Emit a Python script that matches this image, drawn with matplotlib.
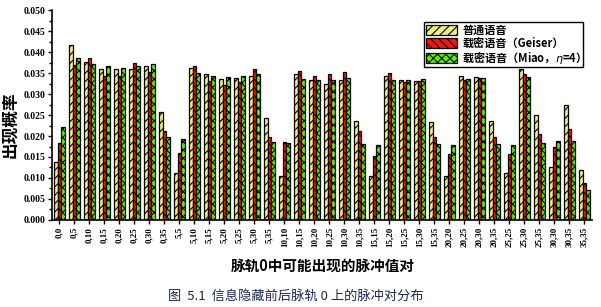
import numpy as np
import matplotlib
matplotlib.use('Agg')
import matplotlib.pyplot as plt
from matplotlib.patches import Patch

# 脉冲值对
pairs = ['0,0', '0,5', '0,10', '0,15', '0,20', '0,25', '0,30', '0,35',
         '5,5', '5,10', '5,15', '5,20', '5,25', '5,30', '5,35',
         '10,10', '10,15', '10,20', '10,25', '10,30', '10,35',
         '15,15', '15,20', '15,25', '15,30', '15,35',
         '20,20', '20,25', '20,30', '20,35',
         '25,25', '25,30', '25,35',
         '30,30', '30,35',
         '35,35']

normal = [0.0137, 0.0416, 0.0376, 0.0359, 0.0359, 0.0359, 0.0366, 0.0256,
          0.0111, 0.0363, 0.0347, 0.0335, 0.0337, 0.0344, 0.0242,
          0.0104, 0.0347, 0.0333, 0.0325, 0.0333, 0.0235,
          0.0104, 0.0342, 0.0333, 0.0330, 0.0233,
          0.0104, 0.0342, 0.0340, 0.0235,
          0.0111, 0.0359, 0.0249,
          0.0125, 0.0275,
          0.0118]

geiser = [0.0183, 0.0368, 0.0385, 0.0344, 0.0342, 0.0375, 0.0352, 0.0211,
          0.0159, 0.0366, 0.0330, 0.0321, 0.0328, 0.0359, 0.0197,
          0.0185, 0.0354, 0.0344, 0.0347, 0.0352, 0.0211,
          0.0152, 0.0349, 0.0328, 0.0330, 0.0197,
          0.0156, 0.0333, 0.0337, 0.0197,
          0.0156, 0.0347, 0.0204,
          0.0173, 0.0216,
          0.0087]

miao = [0.0221, 0.0385, 0.0371, 0.0366, 0.0363, 0.0366, 0.0371, 0.0198,
        0.0192, 0.0349, 0.0344, 0.0340, 0.0344, 0.0347, 0.0185,
        0.0183, 0.0335, 0.0333, 0.0333, 0.0337, 0.0180,
        0.0178, 0.0333, 0.0333, 0.0335, 0.0180,
        0.0178, 0.0335, 0.0337, 0.0180,
        0.0178, 0.0340, 0.0183,
        0.0187, 0.0187,
        0.0071]

labels = ['普通语音', '载密语音（Geiser）', '载密语音（Miao，$\\eta$=4）']
colors = ['#eef07a', '#ff1010', '#5cee00']
hatches = ['////', '\\\\\\\\', 'xxxx']

plt.rcParams['hatch.linewidth'] = 0.8
cjk = ['Noto Sans CJK SC', 'DejaVu Sans']
serif = ['Liberation Serif', 'DejaVu Serif']

fig = plt.figure(figsize=(6.01, 3.07), dpi=100)
ax = fig.add_axes([0.0865, 0.2834, 0.8985, 0.684])

x = np.arange(len(pairs))
w = 0.26
series = [normal, geiser, miao]
for i, vals in enumerate(series):
    ax.bar(x + (i - 1) * w, vals, w, color=colors[i], edgecolor='black',
           hatch=hatches[i], linewidth=0.9)

ax.set_xlim(-0.5, len(pairs) - 0.5)
ax.set_ylim(0, 0.05)
ax.set_yticks(np.arange(0, 0.0501, 0.005))
ax.set_yticks(np.arange(0.0025, 0.05, 0.005), minor=True)
ax.set_yticklabels(['%.3f' % v for v in np.arange(0, 0.0501, 0.005)],
                   fontfamily=serif, fontweight='bold', fontsize=7)
ax.set_xticks(x)
ax.set_xticklabels(pairs, rotation=90, fontfamily=serif, fontweight='bold', fontsize=6.5)
ax.tick_params(axis='both', direction='out', length=3, width=1, pad=2)
ax.tick_params(axis='y', which='minor', length=2, width=1)
for s in ['top', 'right']:
    ax.spines[s].set_visible(False)
for s in ['left', 'bottom']:
    ax.spines[s].set_linewidth(1.2)

fig.text(0.017, 0.595, '出现概率', rotation=90, ha='center', va='center',
         family=cjk, fontweight='bold', fontsize=12)
fig.text(0.537, 0.135, '脉轨0中可能出现的脉冲值对', ha='center', va='center',
         family=cjk, fontweight='bold', fontsize=10.5)
fig.text(0.493, 0.035, '图  5.1  信息隐藏前后脉轨 0 上的脉冲对分布', ha='center', va='center',
         family=cjk, fontsize=9.5, color='#1c2850')

handles = [Patch(facecolor=colors[i], edgecolor='black', hatch=hatches[i], linewidth=0.9)
           for i in range(3)]
leg = fig.legend(handles, labels, loc='upper left', bbox_to_anchor=(424 / 601, 1 - 22 / 307),
                 prop={'family': cjk, 'weight': 'bold', 'size': 8},
                 frameon=True, fancybox=False, edgecolor='black', framealpha=1,
                 handlelength=2.8, handleheight=1.1, labelspacing=0.0,
                 borderpad=0.15, handletextpad=0.5, borderaxespad=0)
leg.get_frame().set_linewidth(1.0)

fig.savefig('out.png', dpi=100)
